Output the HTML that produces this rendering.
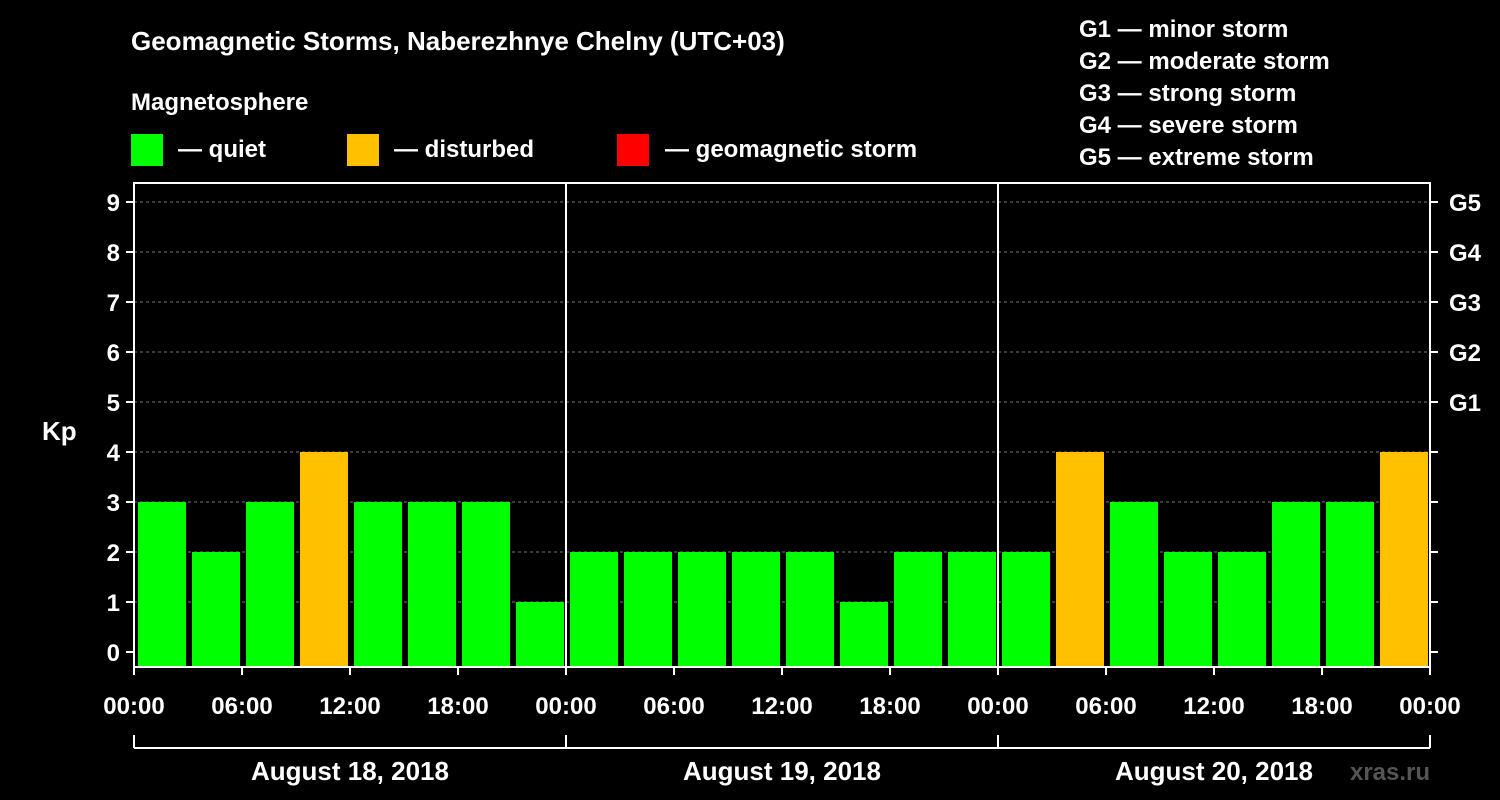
<!DOCTYPE html>
<html><head><meta charset="utf-8"><style>
html,body{margin:0;padding:0;background:#000;width:1500px;height:800px;overflow:hidden}
svg{display:block;font-family:"Liberation Sans",sans-serif;font-weight:bold}
</style></head><body>
<svg id="c" width="1500" height="800" xmlns="http://www.w3.org/2000/svg">
<text x="131" y="50" fill="#fff" font-size="26">Geomagnetic Storms, Naberezhnye Chelny (UTC+03)</text>
<text x="131" y="110" fill="#fff" font-size="24">Magnetosphere</text>
<g><rect x="131" y="134" width="32" height="32" fill="#00ff00"/><text x="178" y="157" fill="#fff" font-size="24">— quiet</text></g>
<g><rect x="347" y="134" width="32" height="32" fill="#ffc000"/><text x="394" y="157" fill="#fff" font-size="24">— disturbed</text></g>
<g><rect x="617" y="134" width="32" height="32" fill="#ff0000"/><text x="665" y="157" fill="#fff" font-size="24">— geomagnetic storm</text></g>
<g fill="#fff" font-size="24">
<text x="1079" y="37">G1 — minor storm</text><text x="1079" y="69">G2 — moderate storm</text><text x="1079" y="101">G3 — strong storm</text><text x="1079" y="133">G4 — severe storm</text><text x="1079" y="165">G5 — extreme storm</text>
</g>
<text x="42" y="440" fill="#fff" font-size="26">Kp</text>
<g id="plot"></g>
<text x="1390" y="780" fill="#555" font-size="24" text-anchor="middle">xras.ru</text>
</svg>
<script>
const dates=["August 18, 2018","August 19, 2018","August 20, 2018"];
const kpDay1=[3,2,3,4,3,3,3,1];
const kpDay2=[2,2,2,2,2,1,2,2];
const kpDay3=[2,4,3,2,2,3,3,4];
const hourLabels=["00:00","06:00","12:00","18:00"];
const gLabels=["G1","G2","G3","G4","G5"];
const NS="http://www.w3.org/2000/svg";
const X0=134,X1=1430,YB=667;
const kp=[].concat(kpDay1,kpDay2,kpDay3);
const slots=kp.length;
const sx=i=>X0+(X1-X0)*i/slots;
const y=v=>652-50*v;
const g=document.getElementById('plot');
function mk(t,a){const e=document.createElementNS(NS,t);for(const k in a)e.setAttribute(k,a[k]);g.appendChild(e);return e;}
for(let v=1;v<=9;v++){const l=mk('line',{x1:X0,x2:X1,y1:y(v),y2:y(v),stroke:'#777','stroke-dasharray':'3,3'});

}
kp.forEach((v,i)=>{const w=sx(1)-sx(0);
const r=mk('rect',{x:sx(i)+4,y:y(v),width:w-6,height:YB-y(v),fill:v>=5?'#ff0000':(v>=4?'#ffc000':'#00ff00')});

});
const fr=mk('rect',{x:X0,y:183,width:X1-X0,height:YB-183,fill:'none',stroke:'#fff','stroke-width':2});


const days=dates.length;
for(let d=1;d<days;d++){const x=X0+(X1-X0)*d/days;const l=mk('line',{x1:x,x2:x,y1:183,y2:YB,stroke:'#fff','stroke-width':2});

}
for(let v=0;v<=9;v++){
mk('line',{x1:X0-8,x2:X0,y1:y(v),y2:y(v),stroke:'#fff','stroke-width':2});
mk('line',{x1:X1,x2:X1+8,y1:y(v),y2:y(v),stroke:'#fff','stroke-width':2});
const t=mk('text',{x:X0-14,y:y(v)+9,fill:'#fff','font-size':24,'text-anchor':'end'});t.textContent=v;


if(v>=5){const gt=mk('text',{x:X1+19,y:y(v)+9,fill:'#fff','font-size':24});gt.textContent=gLabels[v-5];

}
}
for(let i=0;i<=days*4;i++){const x=X0+(X1-X0)*i/(days*4);
mk('line',{x1:x,x2:x,y1:YB,y2:YB+8,stroke:'#fff','stroke-width':2});
const t=mk('text',{x:x,y:714,fill:'#fff','font-size':24,'text-anchor':'middle'});t.textContent=hourLabels[i%4];

}
mk('line',{x1:X0,x2:X1,y1:748,y2:748,stroke:'#fff','stroke-width':2});
for(let d=0;d<=days;d++){const x=X0+(X1-X0)*d/days;mk('line',{x1:x,x2:x,y1:735,y2:748,stroke:'#fff','stroke-width':2});}
dates.forEach((s,d)=>{const x=X0+(X1-X0)*(d+0.5)/days;const t=mk('text',{x:x,y:780,fill:'#fff','font-size':26,'text-anchor':'middle'});t.textContent=s;

});
</script>
</body></html>
